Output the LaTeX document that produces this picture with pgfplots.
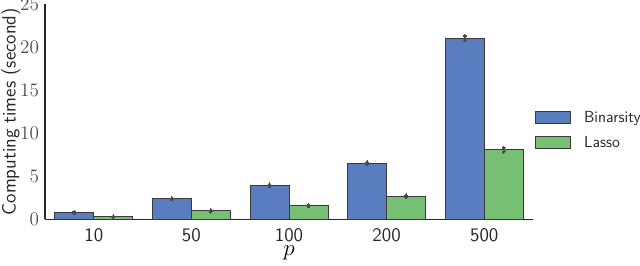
\documentclass[border=0pt]{standalone}
\usepackage{pgfplots}
\pgfplotsset{compat=1.18}
\usetikzlibrary{calc}
\definecolor{bblue}{HTML}{5A7DC0}
\definecolor{bgreen}{HTML}{77BF72}
\definecolor{edge}{HTML}{3A3A3A}
\begin{document}
\begin{tikzpicture}
\begin{axis}[
  scale only axis,
  width=366pt, height=161.6pt,
  ybar=0pt, bar width=29.25pt,
  xmin=-0.5, xmax=4.5, ymin=0, ymax=25,
  axis lines=left,
  axis line style={-, line width=0.9pt, color=black!85},
  xtick=data,
  xticklabels={10,50,100,200,500},
  xticklabel style={font=\sffamily\Large, text=black!85, inner ysep=1pt, yshift=-5.5pt},
  yticklabel style={font=\Large, text=black!70, xshift=-1pt},
  ytick={0,5,10,15,20,25},
  major tick length=0pt,
  xlabel={$p$}, xlabel style={font=\LARGE, yshift=-1pt, inner ysep=1pt},
  ylabel={\sffamily Computing times (second)}, ylabel style={font=\Large, text=black!85, yshift=-7pt},
  legend style={at={(1.0,0.415)}, anchor=west, xshift=1.5pt, draw=none, fill=none, inner xsep=0pt, inner ysep=0pt, font=\sffamily\fontsize{12}{14}\selectfont, row sep=5pt, text=black!85, nodes={inner xsep=10pt}},
  legend cell align=left,
  legend image code/.code={\draw[#1, draw=edge, line width=0.6pt] (0pt,-4.5pt) rectangle (26pt,4.5pt);},
  error bars/error bar style={line width=1.6pt, color=black!70},
  error bars/error mark=*,
  error bars/error mark options={mark size=1.1pt, fill=black!70, draw=black!70, line width=0pt},
]
\addplot[fill=bblue, draw=edge, line width=0.6pt, error bars/.cd, y dir=both, y explicit]
 coordinates {(0,0.82) +- (0,0.1) (1,2.4) +- (0,0.08) (2,3.97) +- (0,0.1) (3,6.54) +- (0,0.1) (4,21.05) +- (0,0.25)};
\addplot[fill=bgreen, draw=edge, line width=0.6pt, error bars/.cd, y dir=both, y explicit]
 coordinates {(0,0.32) +- (0,0.06) (1,1.0) +- (0,0.08) (2,1.6) +- (0,0.08) (3,2.7) +- (0,0.1) (4,8.1) +- (0,0.25)};
\legend{Binarsity,Lasso}
\end{axis}
\pgfresetboundingbox
\path[use as bounding box] ($(current axis.south west)+(-33.75pt,-34.9pt)$) rectangle ($(current axis.north east)+(80.25pt,3pt)$);
\end{tikzpicture}
\end{document}
